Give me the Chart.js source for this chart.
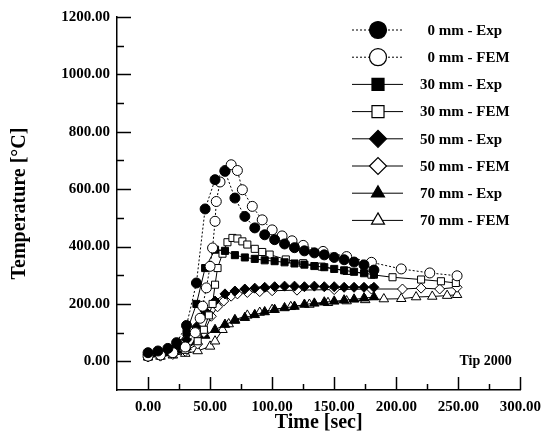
<!DOCTYPE html>
<html>
<head>
<meta charset="utf-8">
<script src="https://cdn.jsdelivr.net/npm/chart.js@4.4.0/dist/chart.umd.min.js"></script>
<style>
  html, body { margin: 0; padding: 0; background: #fff; }
  #wrap { width: 549px; height: 435px; }
</style>
</head>
<body>
<div id="wrap"><canvas id="tempChart" width="549" height="435"></canvas></div>
<script>
// measured series (time in sec, temperature in °C)
const expTime = [0, 8, 16, 23, 31, 39, 46, 54, 62, 70, 78, 86, 94, 102, 110, 118, 126, 134, 142, 150, 158, 166, 174, 182];
const exp0  = [30, 36, 45, 65, 125, 273, 531, 633, 662, 569, 505, 465, 441, 424, 409, 396, 385, 378, 371, 362, 354, 346, 336, 318];
const exp30 = [25, 30, 38, 55, 100, 200, 325, 389, 385, 370, 362, 357, 352, 349, 345, 341, 337, 332, 328, 322, 317, 312, 307, 302];
const exp50 = [25, 30, 38, 50, 75, 120, 175, 210, 235, 245, 252, 255, 258, 260, 262, 262, 260, 262, 260, 260, 258, 258, 258, 258];
const exp70 = [22, 26, 30, 38, 50, 68, 90, 110, 128, 142, 152, 162, 172, 180, 186, 191, 198, 202, 206, 209, 213, 216, 220, 224];

// FEM series
const fem0Time = [0, 10, 20, 30, 38, 42, 44, 47, 50, 52, 54, 55, 58, 62, 67, 72, 76, 84, 92, 100, 108, 116, 125, 141, 160, 180, 204, 227, 249];
const fem0     = [18, 22, 30, 50, 100, 150, 192, 256, 331, 395, 488, 557, 625, 665, 685, 665, 598, 540, 493, 458, 437, 420, 404, 383, 365, 345, 322, 308, 298];
const fem30Time = [0, 10, 20, 30, 40, 45, 49, 52, 54, 56, 60, 64, 68, 72, 76, 80, 86, 92, 98, 111, 125, 140, 160, 180, 197, 220, 236, 248];
const fem30     = [16, 20, 26, 40, 70, 110, 160, 200, 267, 325, 375, 415, 430, 428, 418, 407, 392, 381, 372, 355, 342, 330, 315, 302, 293, 285, 279, 273];
const fem50Time = [0, 10, 20, 30, 40, 45, 51, 56, 61, 67, 72, 80, 90, 100, 120, 150, 180, 205, 220, 235, 249];
const fem50     = [15, 18, 24, 35, 60, 100, 157, 190, 210, 227, 235, 240, 243, 246, 248, 250, 252, 252, 255, 252, 258];
const fem70Time = [0, 10, 20, 30, 40, 50, 54, 60, 65, 70, 80, 90, 100, 115, 130, 145, 160, 175, 190, 204, 216, 229, 241, 249];
const fem70     = [14, 17, 21, 27, 36, 52, 70, 110, 130, 145, 160, 170, 180, 190, 198, 204, 210, 214, 217, 218, 224, 226, 229, 232];

const seriesLabels = ['0 mm - Exp', '0 mm - FEM', '30 mm - Exp', '30 mm - FEM', '50 mm - Exp', '50 mm - FEM', '70 mm - Exp', '70 mm - FEM'];
const noteText = 'Tip 2000';

const serif = "'Liberation Serif', 'DejaVu Serif', serif";

function pts(xs, ys) {
    return xs.map((x, i) => ({ x: x, y: ys[i] }));
}

function makeSet(label, xs, ys, style, filled, dashed) {
    return {
        label: label,
        data: pts(xs, ys),
        showLine: true,
        borderColor: '#000',
        borderWidth: 1,
        borderDash: dashed ? [2, 2] : [],
        backgroundColor: filled ? '#000' : '#fff',
        pointStyle: style,
        pointRadius: style === 'triangle' ? 5.5 : 5,
        pointBorderColor: '#000',
        pointBorderWidth: 1,
        pointBackgroundColor: filled ? '#000' : '#fff',
        tension: 0
    };
}

const datasets = [
    makeSet(seriesLabels[0], expTime, exp0, 'circle', true, true),
    makeSet(seriesLabels[1], fem0Time, fem0, 'circle', false, true),
    makeSet(seriesLabels[2], expTime, exp30, 'rect', true, false),
    makeSet(seriesLabels[3], fem30Time, fem30, 'rect', false, false),
    makeSet(seriesLabels[4], expTime, exp50, 'rectRot', true, false),
    makeSet(seriesLabels[5], fem50Time, fem50, 'rectRot', false, false),
    makeSet(seriesLabels[6], expTime, exp70, 'triangle', true, false),
    makeSet(seriesLabels[7], fem70Time, fem70, 'triangle', false, false)
];

// ticks pointing into the plot, like the original figure
const innerTicks = {
    id: 'innerTicks',
    afterDraw(chart) {
        const ctx = chart.ctx;
        const xs = chart.scales.x, ys = chart.scales.y;
        const area = chart.chartArea;
        ctx.save();
        ctx.strokeStyle = '#000';
        ctx.lineWidth = 1.5;
        xs.ticks.forEach(t => {
            if (t.value < 0) return;
            const px = Math.round(xs.getPixelForValue(t.value)) + 0.5;
            const len = t.value % 50 === 0 ? 13 : 6;
            ctx.beginPath();
            ctx.moveTo(px, area.bottom);
            ctx.lineTo(px, area.bottom - len);
            ctx.stroke();
        });
        ys.ticks.forEach(t => {
            if (t.value < 0) return;
            const py = Math.round(ys.getPixelForValue(t.value)) + 0.5;
            const len = t.value % 200 === 0 ? 14 : 7;
            ctx.beginPath();
            ctx.moveTo(area.left, py);
            ctx.lineTo(area.left + len, py);
            ctx.stroke();
        });
        // note in the corner
        ctx.fillStyle = '#000';
        ctx.font = 'bold 14px ' + serif;
        ctx.textAlign = 'center';
        ctx.textBaseline = 'middle';
        ctx.fillText(noteText, xs.getPixelForValue(272), ys.getPixelForValue(0));
        ctx.restore();
    }
};

// legend with line + marker samples
const sampleLegend = {
    id: 'sampleLegend',
    afterDraw(chart) {
        const ctx = chart.ctx;
        const x0 = 352, x1 = 403, xm = 378, xt = 420;
        const top = 30, step = 27.2;
        ctx.save();
        chart.data.datasets.forEach((ds, i) => {
            const y = top + i * step;
            ctx.strokeStyle = '#000';
            ctx.lineWidth = 1;
            ctx.setLineDash(ds.borderDash || []);
            ctx.beginPath();
            ctx.moveTo(x0, y);
            ctx.lineTo(x1, y);
            ctx.stroke();
            ctx.setLineDash([]);
            ctx.fillStyle = ds.pointBackgroundColor;
            ctx.lineWidth = 1.2;
            Chart.helpers.drawPoint(ctx, {
                pointStyle: ds.pointStyle,
                radius: ds.pointStyle === 'triangle' ? 7.5 : 8.5,
                rotation: 0,
                borderWidth: 1.2
            }, xm, y);
            ctx.fillStyle = '#000';
            ctx.font = 'bold 15px ' + serif;
            ctx.textAlign = 'left';
            ctx.textBaseline = 'middle';
            const lbl = ds.label.startsWith('0 ') ? '\u2007' + ds.label : ds.label;
            ctx.fillText(lbl, xt, y + 1);
        });
        ctx.restore();
    }
};

const ctxTemp = document.getElementById('tempChart').getContext('2d');
const tempChart = new Chart(ctxTemp, {
    type: 'scatter',
    data: { datasets: datasets },
    options: {
        responsive: false,
        animation: false,
        layout: { padding: { left: 0, right: 27, top: 17, bottom: 0 } },
        scales: {
            x: {
                type: 'linear',
                min: -25,
                max: 300,
                afterFit: scale => { scale.height = 45; },
                grid: { display: false, drawTicks: false },
                border: { display: true, color: '#000', width: 1.5 },
                ticks: {
                    stepSize: 25,
                    autoSkip: false,
                    maxRotation: 0,
                    padding: 8,
                    color: '#000',
                    font: { family: serif, size: 15, weight: 'bold' },
                    callback: v => (v >= 0 && v % 50 === 0) ? v.toFixed(2) : ''
                },
                title: {
                    display: true,
                    text: 'Time [sec]',
                    color: '#000',
                    padding: { top: 0, bottom: 0 },
                    font: { family: serif, size: 20, weight: 'bold' }
                }
            },
            y: {
                type: 'linear',
                min: -100,
                max: 1200,
                afterFit: scale => { scale.width = 117; },
                grid: { display: false, drawTicks: false },
                border: { display: true, color: '#000', width: 1.5 },
                ticks: {
                    stepSize: 100,
                    autoSkip: false,
                    padding: 7,
                    color: '#000',
                    font: { family: serif, size: 15, weight: 'bold' },
                    callback: v => (v >= 0 && v % 200 === 0) ? v.toFixed(2) : ''
                },
                title: {
                    display: true,
                    text: 'Temperature [°C]',
                    color: '#000',
                    padding: { top: 8, bottom: 0 },
                    font: { family: serif, size: 20, weight: 'bold' }
                }
            }
        },
        plugins: {
            legend: { display: false },
            tooltip: { enabled: false }
        }
    },
    plugins: [innerTicks, sampleLegend]
});
</script>
</body>
</html>
